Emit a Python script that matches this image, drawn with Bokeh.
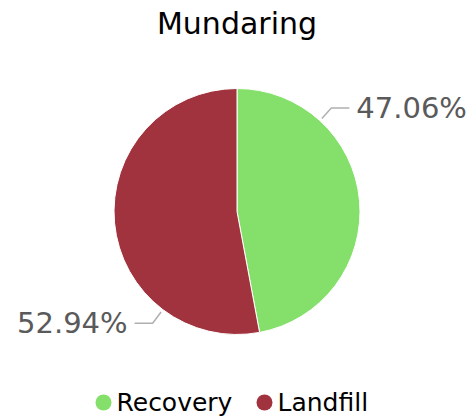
import math
from bokeh.plotting import figure
from bokeh.models import Range1d, ColumnDataSource
from bokeh.core.properties import value
from bokeh.embed import file_html
from bokeh.resources import INLINE

# ---- data ----
title_text = "Mundaring"
categories = ["Recovery", "Landfill"]
shares = [47.06, 52.94]
colors = ["#84e06a", "#a1333e"]

# ---- layout ----
W, H = 472, 418
FONT = "DejaVu Sans"

def fx(px):
    return px

def fy(py):
    return H - py

cx, cy = fx(236.5), fy(211)
R = 123

p = figure(width=W, height=H, output_backend="svg", toolbar_location=None,
           x_range=Range1d(0, W), y_range=Range1d(0, H), min_border=0)
p.axis.visible = False
p.grid.visible = False
p.outline_line_color = None
p.background_fill_color = "white"
p.border_fill_color = "white"

total = sum(shares)
starts, ends, lab_angles = [], [], []
acc = 0.0
for s in shares:
    a0 = acc / total * 2 * math.pi
    a1 = (acc + s) / total * 2 * math.pi
    # clockwise from top -> math angle
    starts.append(math.pi / 2 - a0)
    ends.append(math.pi / 2 - a1)
    lab_angles.append(a0 + 0.25 * (a1 - a0))
    acc += s

src = ColumnDataSource(dict(x=[cx] * len(shares), y=[cy] * len(shares),
                            start=starts, end=ends, color=colors))
p.wedge(x="x", y="y", radius=R, radius_units="screen", start_angle="start",
        end_angle="end", direction="clock", fill_color="color",
        line_color="white", line_width=1, source=src)

# labels with leader lines
for share, ang in zip(shares, lab_angles):
    sx, sy = math.sin(ang), math.cos(ang)
    x0, y0 = cx + (R + 3) * sx, cy + (R + 3) * sy
    x1, y1 = cx + (R + 17) * sx, cy + (R + 17) * sy
    side = 1 if sx >= 0 else -1
    x2 = x1 + side * 18
    p.line([x0, x1, x2], [y0, y1, y1], line_color="#b0b0b0", line_width=1.5)
    p.text(x=[x2 + side * 7], y=[y1], text=[f"{share:.2f}%"],
           text_font=value(FONT), text_font_size="29px", text_color="#5a5a5a",
           text_align="left" if side > 0 else "right", text_baseline="middle")

# title
p.text(x=[fx(236.5)], y=[fy(23)], text=[title_text], text_font=value(FONT),
       text_font_size="30px", text_color="#000000", text_align="center",
       text_baseline="middle")

# legend
leg_marker_x = [fx(103), fx(264)]
leg_y = fy(402)
p.scatter(x=leg_marker_x, y=[leg_y] * 2, size=16, marker="circle",
          fill_color=colors, line_color=None)
p.text(x=[m + 13 for m in leg_marker_x], y=[leg_y] * 2, text=categories,
       text_font=value(FONT), text_font_size="25px", text_color="#000000",
       text_align="left", text_baseline="middle")

open("out.html", "w").write(file_html(p, INLINE))
